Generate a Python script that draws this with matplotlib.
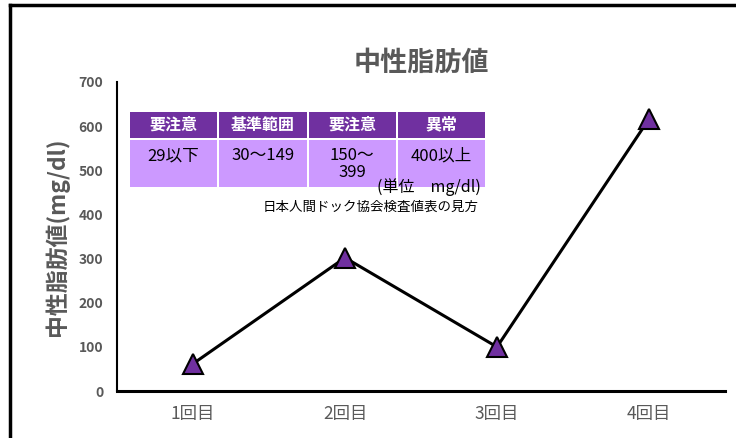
import matplotlib.pyplot as plt
from matplotlib.patches import Rectangle
from matplotlib.lines import Line2D

plt.rcParams['font.family'] = ['Noto Sans CJK JP', 'DejaVu Sans']

# data
visits = ["1回目", "2回目", "3回目", "4回目"]
triglyceride = [62, 302, 100, 616]
y_ticks = [0, 100, 200, 300, 400, 500, 600, 700]

# reference ranges table
range_headers = ["要注意", "基準範囲", "要注意", "異常"]
range_values = ["29以下", "30～149", "150～\n399", "400以上"]

gray = "#595959"
purple = "#7030A0"
light_purple = "#CC99FF"

fig = plt.figure(figsize=(7.36, 4.38), dpi=100)
ax = fig.add_axes([0.159, 0.107, 0.826, 0.706])

x = list(range(len(visits)))
ax.plot(x, triglyceride, color="black", lw=2.2, marker="^", ms=14,
        mfc=purple, mec="black", mew=1.5, zorder=3)

ax.set_xlim(-0.5, 3.5)
ax.set_ylim(0, 700)
ax.set_yticks(y_ticks)
ax.set_xticks(x)
ax.set_xticklabels(visits, fontsize=12.5, color=gray)
for lbl in ax.get_yticklabels():
  lbl.set_fontweight("bold")
  lbl.set_fontsize(10)
  lbl.set_color(gray)
ax.tick_params(axis="y", length=0, pad=10)
ax.tick_params(axis="x", length=0, pad=10)

for side in ["top", "right"]:
  ax.spines[side].set_visible(False)
ax.spines["left"].set_linewidth(1.5)
ax.spines["bottom"].set_linewidth(2.2)

ax.set_title("中性脂肪値", fontsize=19.5, fontweight="bold", color=gray, pad=8)
ax.set_ylabel("中性脂肪値(mg/dl)", fontsize=16.5, fontweight="bold", color=gray, labelpad=7)

# table of ranges, drawn in axes fraction
left = 0.021
col_w = 0.147
gap = 0.003
head_top = 0.903
head_h = 0.084
body_top = head_top - head_h - 0.008
body_h = 0.150
for i in range(len(range_headers)):
  x0 = left + i * col_w
  ax.add_patch(Rectangle((x0, head_top - head_h), col_w - gap, head_h,
                         transform=ax.transAxes, color=purple, lw=0, zorder=1))
  ax.add_patch(Rectangle((x0, body_top - body_h), col_w - gap, body_h,
                         transform=ax.transAxes, color=light_purple, lw=0, zorder=1))
  cx = x0 + (col_w - gap) / 2
  ax.text(cx, head_top - head_h / 2, range_headers[i], transform=ax.transAxes,
          ha="center", va="center", color="white", fontsize=11.5, fontweight="bold", zorder=2)
  ax.text(cx, body_top - 0.022, range_values[i], transform=ax.transAxes,
          ha="center", va="top", color="black", fontsize=12, linespacing=0.95, zorder=2)

ax.text(0.598, 0.660, "(単位　mg/dl)", transform=ax.transAxes, ha="right", va="center",
        fontsize=11.5, color="black", zorder=2)
ax.text(0.594, 0.595, "日本人間ドック協会検査値表の見方", transform=ax.transAxes,
        ha="right", va="center", fontsize=9.7, color="black")

# black frame on top and left edges
fig.add_artist(Line2D([0.0136, 1.0], [0.988, 0.988], color="black", lw=2.5))
fig.add_artist(Line2D([0.0136, 0.0136], [0.0, 0.988], color="black", lw=2.5))

fig.savefig("out.png", dpi=100)
